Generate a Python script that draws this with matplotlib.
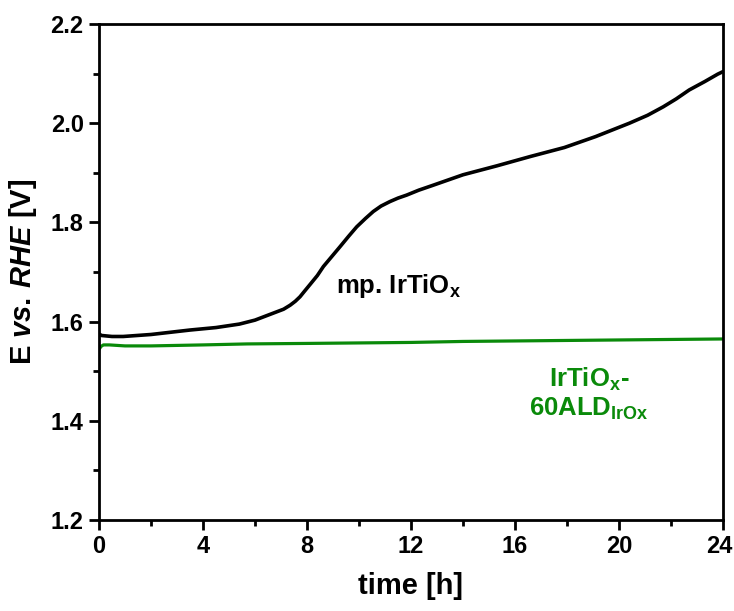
import matplotlib
matplotlib.use("Agg")
import matplotlib.pyplot as plt
import matplotlib.transforms as mtransforms
import numpy as np

plt.rcParams['font.family'] = ['Liberation Sans', 'DejaVu Sans']
plt.rcParams['font.weight'] = 'bold'
plt.rcParams['mathtext.fontset'] = 'custom'
plt.rcParams['mathtext.rm'] = 'Liberation Sans:bold'
plt.rcParams['mathtext.it'] = 'Liberation Sans:bold:italic'
plt.rcParams['mathtext.bf'] = 'Liberation Sans:bold'

# data
t_black = [0, 0.1, 0.5, 0.93, 2, 3.5, 4.5, 5.4, 6.0, 6.7, 7.1, 7.35, 7.55, 7.73, 7.9, 8.12, 8.4, 8.63, 8.95, 9.27, 9.6, 9.91, 10.25, 10.55, 10.85, 11.19, 11.5, 11.83, 12.3, 12.8, 14.0, 15.3, 16.6, 17.9, 19.1, 20.4, 21.1, 21.7, 22.2, 22.7, 23.3, 23.8, 24]
e_black = [1.575, 1.572, 1.570, 1.570, 1.574, 1.583, 1.588, 1.595, 1.603, 1.617, 1.625, 1.633, 1.641, 1.650, 1.661, 1.675, 1.693, 1.711, 1.731, 1.751, 1.772, 1.791, 1.808, 1.822, 1.833, 1.842, 1.849, 1.855, 1.865, 1.874, 1.896, 1.914, 1.933, 1.951, 1.973, 2.000, 2.016, 2.033, 2.049, 2.067, 2.084, 2.099, 2.104]

t_green = [0, 0.08, 0.17, 0.4, 1, 2, 4, 5.7, 8, 10, 12, 14, 16, 18, 20, 22, 24]
e_green = [1.544, 1.550, 1.553, 1.553, 1.551, 1.551, 1.553, 1.555, 1.556, 1.557, 1.558, 1.560, 1.561, 1.562, 1.563, 1.564, 1.565]

x_ticks = [0, 4, 8, 12, 16, 20, 24]
y_ticks = [1.2, 1.4, 1.6, 1.8, 2.0, 2.2]

fig = plt.figure(figsize=(7.34, 6.11), dpi=100)
ax = fig.add_axes([99/734, 1 - 520/611, (723-99)/734, (520-24)/611])

ax.plot(t_black, e_black, color='black', lw=2.6, solid_capstyle='round', solid_joinstyle='round')
ax.plot(t_green, e_green, color='#0a8a0a', lw=2.3, solid_joinstyle='round')

ax.set_xlim(0, 24)
ax.set_ylim(1.2, 2.2)
ax.set_xticks(x_ticks)
ax.set_yticks(y_ticks)
ax.set_xticklabels([str(v) for v in x_ticks])
ax.set_yticklabels([f"{v:.1f}" for v in y_ticks])
ax.set_xticks(np.arange(2, 24, 4), minor=True)
ax.set_yticks([1.3, 1.5, 1.7, 1.9, 2.1], minor=True)
ax.tick_params(which='major', direction='out', length=7, width=2, labelsize=17, pad=4)
ax.tick_params(which='minor', direction='out', length=4, width=2)
for lab in ax.get_xticklabels() + ax.get_yticklabels():
    lab.set_fontweight('bold')
for s in ax.spines.values():
    s.set_linewidth(2)

# keep the last x tick label inside the canvas
last = ax.get_xticklabels()[-1]
last.set_transform(last.get_transform() + mtransforms.ScaledTranslation(-4/100, 0, fig.dpi_scale_trans))

ax.set_xlabel('time [h]', fontsize=21, fontweight='bold', labelpad=10)
ax.set_ylabel(r'E $\mathit{vs.\,RHE}$ [V]', fontsize=21, fontweight='bold', labelpad=8)

ax.text(9.1, 1.672, r'mp. IrTiO$_\mathrm{x}$', fontsize=18.5, fontweight='bold', color='black', va='center', ha='left')
ax.text(18.85, 1.484, r'IrTiO$_\mathrm{x}$-', fontsize=18.5, fontweight='bold', color='#0a8a0a', va='center', ha='center')
ax.text(18.85, 1.424, r'60ALD$_\mathrm{IrOx}$', fontsize=18.5, fontweight='bold', color='#0a8a0a', va='center', ha='center')

fig.savefig('out.png', dpi=100)
